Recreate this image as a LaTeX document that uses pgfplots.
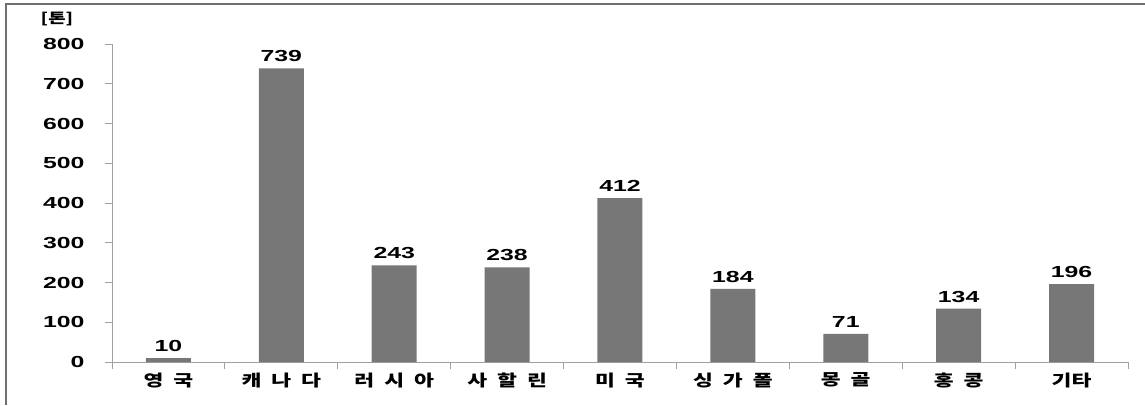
\documentclass[border=0pt]{standalone}
\usepackage{fontspec}
\setmainfont{Liberation Sans}
\newfontfamily\numfont[FakeStretch=1.55]{Liberation Sans}
\newfontfamily\kr[FakeStretch=1.35]{Noto Sans CJK KR}
\usepackage{pgfplots}
\pgfplotsset{compat=1.18}
\definecolor{bargray}{HTML}{777777}
\definecolor{axgray}{HTML}{A0A0A0}
\definecolor{framegray}{HTML}{707070}

\newcommand{\numstyle}{\numfont\bfseries\fontsize{16}{16}\selectfont}
\newcommand{\krstyle}{\kr\bfseries\fontsize{16}{16}\selectfont}

\begin{document}
\begin{tikzpicture}[x=1pt,y=1pt]
\useasboundingbox (0,0) rectangle (1145,405);
\begin{axis}[
    at={(112pt,43pt)}, anchor=south west,
    scale only axis,
    width=1016pt, height=318pt,
    xmin=0, xmax=9, ymin=0, ymax=800,
    axis x line*=bottom, axis y line*=left,
    axis line style={axgray, line width=1pt},
    tick style={axgray, line width=0.8pt},
    tick align=outside,
    major tick length=7pt,
    xtick={0,...,9}, xticklabels={},
    ytick={0,100,...,800},
    extra x ticks={0.5,1.5,...,8.5},
    extra x tick labels={
        {영\hspace{10pt}국},
        {캐\hspace{10pt}나\hspace{10pt}다},
        {러\hspace{10pt}시\hspace{10pt}아},
        {사\hspace{10pt}할\hspace{10pt}린},
        {미\hspace{10pt}국},
        {싱\hspace{10pt}가\hspace{10pt}폴},
        {몽\hspace{10pt}골},
        {홍\hspace{10pt}콩},
        {기타}},
    extra x tick style={major tick length=0pt,
        tick label style={font=\krstyle, text=black, yshift=-7pt}},
    yticklabel style={font=\numstyle, text=black, xshift=-17pt},
    /pgf/number format/assume math mode=true,
    clip=false,
]
\addplot[ybar, bar width=45pt, fill=bargray, draw=none,
    nodes near coords,
    nodes near coords style={font=\numstyle, text=black, yshift=3pt},
] coordinates {
    (0.5,10)
    (1.5,739)
    (2.5,243)
    (3.5,238)
    (4.5,412)
    (5.5,184)
    (6.5,71)
    (7.5,134)
    (8.5,196)
};
\end{axis}
\node[font=\kr\bfseries\fontsize{14}{14}\selectfont] at (57,386) {[톤]};
\draw[framegray, line width=2pt] (6,0) -- (6,401) -- (1145,401);
\end{tikzpicture}
\end{document}
